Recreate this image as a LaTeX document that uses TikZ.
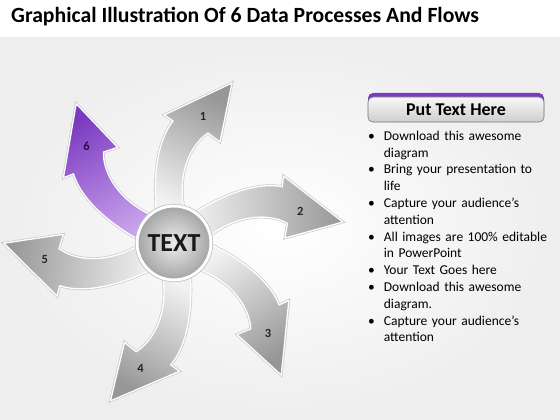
\documentclass[tikz,border=0pt]{standalone}
\usepackage{fontspec}
\setmainfont{Carlito}
\usetikzlibrary{positioning, calc}
\definecolor{PaleGray}{HTML}{EEEEEE}
\definecolor{ArrowDark}{HTML}{979797}
\definecolor{ArrowLight}{HTML}{F2F2F2}
\definecolor{Violet}{HTML}{7B3BC0}
\definecolor{VioletLight}{HTML}{C9A2EC}
\definecolor{HubDark}{HTML}{A4A4A4}
\definecolor{HubLight}{HTML}{EDEDED}

\begin{document}
\begin{tikzpicture}[x=1pt, y=-1pt,
    flow/.style={draw=white, line width=1.3pt, line join=round,
                 preaction={draw=black!22, line width=2.6pt}},
    num/.style={font=\bfseries\fontsize{12.5}{12.5}\selectfont},
    hub/.style={circle, minimum size=74pt, draw=white, line width=3pt,
                shading=radial, inner color=HubLight, outer color=HubDark,
                font=\bfseries\fontsize{26}{26}\selectfont, text=black!90},
    header/.style={rectangle, rounded corners=5pt, minimum width=176pt,
                   font=\bfseries\fontsize{18}{18}\selectfont}
]
    \useasboundingbox (0,0) rectangle (560,420);
    % slide background
    \shade[inner color=white, outer color=PaleGray] (0,38) rectangle (560,420);
    \node[anchor=base west, inner sep=0pt, font=\bfseries\fontsize{21.7}{22}\selectfont]
        (title) at (11,23) {Graphical Illustration Of 6 Data Processes And Flows};

    % six curved arrows round the hub
    \coordinate (c) at (174,243);
    \foreach \k/\rot/\tip/\base/\ink in {1/0/ArrowDark/ArrowLight/black!85,
        2/-63/ArrowDark/ArrowLight/black!85, 3/-121/ArrowDark/ArrowLight/black!85,
        4/-182/ArrowDark/ArrowLight/black!85, 5/-250/ArrowDark/ArrowLight/black!85,
        6/-305/Violet/VioletLight/Violet!30!black} {
        \pgfmathsetmacro{\ang}{\rot-26}
        \begin{scope}[rotate around={\rot:(c)}]
            \shade[flow, top color=\tip, bottom color=\base, shading angle=\ang]
                (157,217) .. controls (152,175) and (158,140) .. (173,121)
                -- (164,115) -- (232,83) -- (220,142) -- (208,133)
                .. controls (190,145) and (176,175) .. (185,214) -- cycle;
            \node[num, text=\ink] (n\k) at (203,116) {\k};
        \end{scope}
    }

    % hub
    \node[hub] (hub) at (c) {TEXT};
    \draw[black!25, line width=0.6pt] (hub) circle (38.8pt);

    % text panel
    \node[header, fill=Violet, minimum height=22pt] (headtop) at (456,104) {};
    \node[header, draw=black!55, line width=0.6pt, top color=gray!6, bottom color=gray!38,
          minimum height=25pt] (head) at (456,109.5) {Put Text Here};
    \node[inner sep=0pt, text width=190pt, below=1pt of head.south west, anchor=north west,
          xshift=-2pt, font=\fontsize{13.5}{16.8}\selectfont] (notes) {%
        \begin{list}{\textbullet}{\setlength{\leftmargin}{18pt}\setlength{\labelwidth}{8pt}%
            \setlength{\labelsep}{9pt}\setlength{\itemsep}{0pt}\setlength{\parsep}{0pt}%
            \setlength{\topsep}{0pt}\setlength{\partopsep}{0pt}}
        \raggedright
        \item Download this awesome\newline diagram
        \item Bring your presentation to\newline life
        \item Capture your audience’s\newline attention
        \item All images are 100\% editable\newline in PowerPoint
        \item Your Text Goes here
        \item Download this awesome\newline diagram.
        \item Capture your audience’s\newline attention
        \end{list}};
\end{tikzpicture}
\end{document}
